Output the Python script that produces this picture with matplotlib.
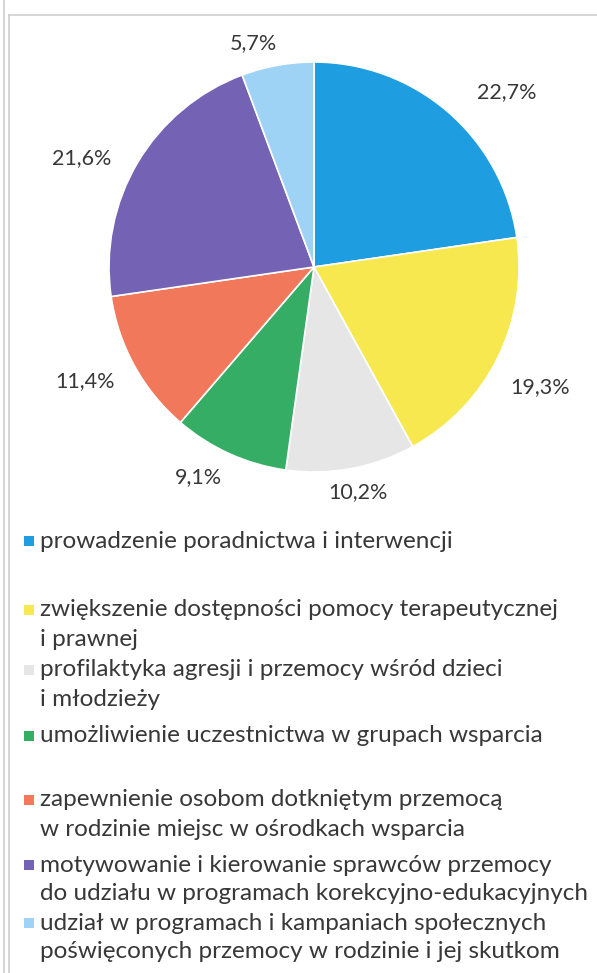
import matplotlib
matplotlib.use('Agg')
import matplotlib.pyplot as plt
from matplotlib.patches import Rectangle
from matplotlib.lines import Line2D
import numpy as np

W, H = 597, 973

# shares of each form of activity (percent)
shares = [22.7, 19.3, 10.2, 9.1, 11.4, 21.6, 5.7]
share_labels = ['22,7%', '19,3%', '10,2%', '9,1%', '11,4%', '21,6%', '5,7%']
categories = [
    'prowadzenie poradnictwa i interwencji',
    'zwiększenie dostępności pomocy terapeutycznej\ni prawnej',
    'profilaktyka agresji i przemocy wśród dzieci\ni młodzieży',
    'umożliwienie uczestnictwa w grupach wsparcia',
    'zapewnienie osobom dotkniętym przemocą\nw rodzinie miejsc w ośrodkach wsparcia',
    'motywowanie i kierowanie sprawców przemocy\ndo udziału w programach korekcyjno-edukacyjnych',
    'udział w programach i kampaniach społecznych\npoświęconych przemocy w rodzinie i jej skutkom',
]
colors = ['#1E9EE0', '#F6E84E', '#E6E6E6', '#35AD64', '#F2785C', '#7462B5', '#9ED3F5']

# percentage label placement: distance (pie radii) and clockwise nudge (deg)
label_dist = [1.27, 1.25, 1.12, 1.17, 1.25, 1.25, 1.13]
label_nudge = [7, 1.5, -0.5, 4.5, 2.3, -5.5, -5]
# first-line pixel row of each legend entry
legend_rows = [541, 610, 670, 736, 800, 865, 923]
line_gap = 29

plt.rcParams['font.family'] = ['Lato', 'DejaVu Sans']
text_col = '#383838'

fig = plt.figure(figsize=(W / 100, H / 100), dpi=100)

# pie axes: centre (314, 267) px, radius 205 px
cx, cy, r = 314, 267, 205
ax = fig.add_axes([(cx - r) / W, (H - cy - r) / H, 2 * r / W, 2 * r / H])
wedges, _ = ax.pie(shares, colors=colors, startangle=90, counterclock=False,
                   radius=1, wedgeprops=dict(edgecolor='white', linewidth=1.2))
ax.set_xlim(-1, 1)
ax.set_ylim(-1, 1)
ax.axis('off')

for w, lab, d, nudge in zip(wedges, share_labels, label_dist, label_nudge):
    mid = np.deg2rad((w.theta1 + w.theta2) / 2 - nudge)
    ax.text(d * np.cos(mid), d * np.sin(mid), lab, ha='center', va='center',
            fontsize=15.5, color=text_col, clip_on=False)

# legend drawn by hand so that the spacing follows the layout
for cat, col, row in zip(categories, colors, legend_rows):
    size = 10
    fig.patches.append(Rectangle((24 / W, (H - row - size / 2) / H), size / W, size / H,
                                 transform=fig.transFigure, facecolor=col, edgecolor='none'))
    for i, line in enumerate(cat.split('\n')):
        fig.text(40 / W, (H - row - i * line_gap) / H, line, ha='left', va='center',
                 fontsize=17.5, color=text_col)

# outer frame lines
frame = '#CFCFCF'
fig.add_artist(Line2D([4 / W, 4 / W], [0, 1], color=frame, lw=1.2, transform=fig.transFigure))
fig.add_artist(Line2D([9 / W, 9 / W], [0, 1 - 15 / H], color=frame, lw=1.2, transform=fig.transFigure))
fig.add_artist(Line2D([9 / W, 1], [1 - 15 / H, 1 - 15 / H], color=frame, lw=1.2, transform=fig.transFigure))

fig.savefig('out.png', dpi=100, facecolor='white')
plt.close(fig)
